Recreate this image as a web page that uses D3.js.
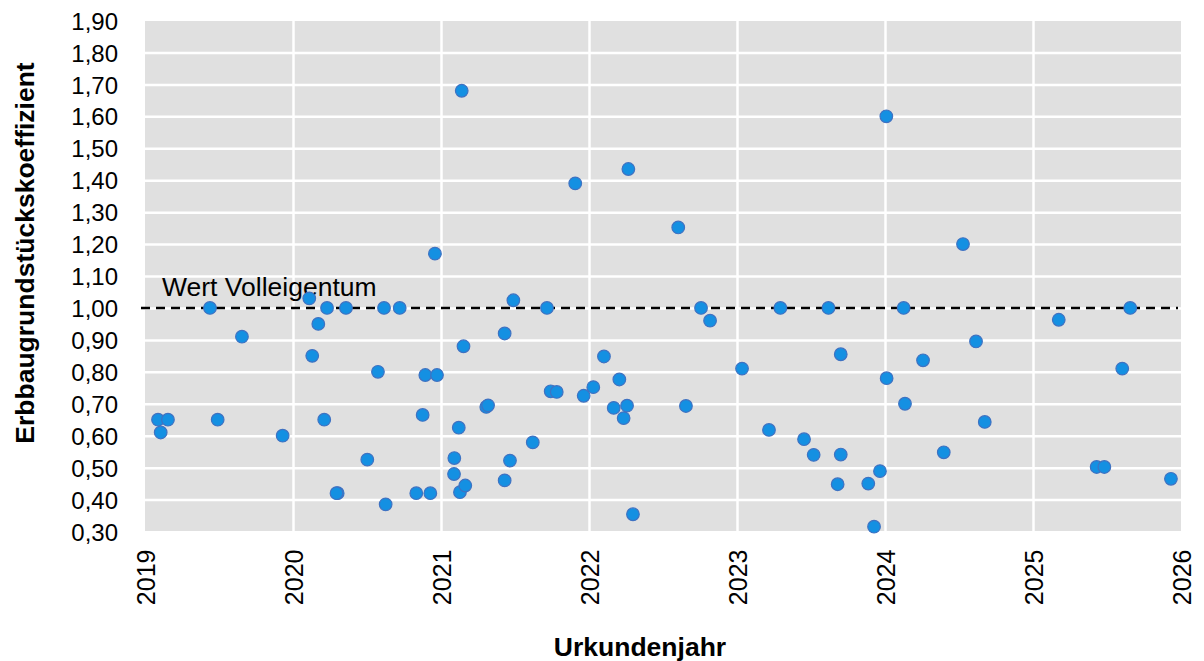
<!DOCTYPE html>
<html>
<head>
<meta charset="utf-8">
<script src="https://cdn.jsdelivr.net/npm/d3@7"></script>
<style>
  body { margin: 0; background: #fff; }
  svg text { font-family: "Liberation Sans", Arial, sans-serif; fill: #000; }
  .axis path, .axis line { display: none; }
  .grid line { stroke: #fff; stroke-width: 2.5; }
  .grid path { display: none; }
</style>
</head>
<body>
<svg class="chart"></svg>
<script>
// year of the deed (decimal) and plot coefficient
var years = [2019.088, 2019.106, 2019.155, 2019.439, 2019.491, 2019.655, 2019.930,
  2020.110, 2020.130, 2020.171, 2020.211, 2020.230, 2020.302, 2020.294, 2020.358, 2020.502,
  2020.574, 2020.615, 2020.626, 2020.721, 2020.833, 2020.876, 2020.894, 2020.928, 2020.959,
  2020.973, 2021.090, 2021.088, 2021.120, 2021.128, 2021.140, 2021.152, 2021.164, 2021.306,
  2021.318, 2021.430, 2021.430, 2021.466, 2021.489, 2021.620, 2021.716, 2021.741, 2021.782,
  2021.907, 2021.964, 2022.029, 2022.101, 2022.167, 2022.205, 2022.234, 2022.257, 2022.266,
  2022.297, 2022.603, 2022.655, 2022.757, 2022.818, 2023.034, 2023.216, 2023.293, 2023.453,
  2023.518, 2023.618, 2023.680, 2023.701, 2023.701, 2023.887, 2023.926, 2023.966, 2024.009,
  2024.011, 2024.126, 2024.135, 2024.257, 2024.397, 2024.527, 2024.615, 2024.674, 2025.174,
  2025.430, 2025.482, 2025.603, 2025.657, 2025.932];
var coefficients = [0.65, 0.61, 0.65, 1.00, 0.65, 0.91, 0.60,
  1.03, 0.85, 0.95, 0.65, 1.00, 0.42, 0.42, 1.00, 0.525,
  0.80, 1.00, 0.385, 1.00, 0.42, 0.665, 0.79, 0.42, 1.17,
  0.79, 0.53, 0.48, 0.625, 0.423, 1.68, 0.88, 0.444, 0.69,
  0.695, 0.92, 0.46, 0.522, 1.024, 0.579, 1.00, 0.739, 0.737,
  1.39, 0.725, 0.752, 0.848, 0.687, 0.776, 0.655, 0.694, 1.435,
  0.354, 1.252, 0.693, 1.00, 0.96, 0.81, 0.618, 1.00, 0.589,
  0.54, 1.00, 0.448, 0.855, 0.541, 0.45, 0.315, 0.489, 1.60,
  0.78, 1.00, 0.70, 0.836, 0.548, 1.20, 0.895, 0.643, 0.963,
  0.502, 0.502, 0.81, 1.00, 0.465];
var yearTicks = [2019, 2020, 2021, 2022, 2023, 2024, 2025, 2026];
var valueTicks = [0.3, 0.4, 0.5, 0.6, 0.7, 0.8, 0.9, 1.0, 1.1, 1.2, 1.3, 1.4, 1.5, 1.6, 1.7, 1.8, 1.9];
var referenceValue = 1.0;
var referenceLabel = "Wert Volleigentum";

var margin = {top: 20.5, right: 23, bottom: 129.5, left: 145};
var totalWidth = 1204, totalHeight = 661;
var chartWidth = totalWidth - margin.left - margin.right;
var chartHeight = totalHeight - margin.top - margin.bottom;

var points = years.map(function(d, i) { return {year: d, value: coefficients[i]}; });

var x = d3.scaleLinear().domain([2019, 2026]).range([0, chartWidth]);
var y = d3.scaleLinear().domain([0.3, 1.9]).range([chartHeight, 0]);
var fmt = function(d) { return d3.format(".2f")(d).replace(".", ","); };

var svg = d3.select(".chart").attr("width", totalWidth).attr("height", totalHeight);
var chart = svg.append("g")
  .attr("transform", "translate(" + margin.left + "," + margin.top + ")");

// plot background
chart.append("rect")
  .attr("x", 0).attr("y", 0.5)
  .attr("width", chartWidth).attr("height", chartHeight - 1)
  .attr("fill", "#e0e0e0");

// grid
chart.append("g").attr("class", "grid")
  .call(d3.axisLeft(y).tickValues(valueTicks.slice(1, -1)).tickSize(-chartWidth).tickFormat(""));
chart.append("g").attr("class", "grid")
  .call(d3.axisBottom(x).tickValues(yearTicks.slice(1, -1)).tickSize(chartHeight).tickFormat(""));

// y axis labels
var yAxis = chart.append("g").attr("class", "axis")
  .attr("transform", "translate(-27,0)")
  .call(d3.axisLeft(y).tickValues(valueTicks).tickSize(0).tickFormat(fmt));
yAxis.selectAll("text").attr("x", 0).attr("dy", "0.36em")
  .style("font-size", "24px");

// x axis labels (rotated)
var xAxis = chart.append("g").attr("class", "axis")
  .attr("transform", "translate(0," + chartHeight + ")")
  .call(d3.axisBottom(x).tickValues(yearTicks).tickSize(0).tickFormat(d3.format("d")));
xAxis.selectAll("text")
  .attr("transform", "rotate(-90)")
  .attr("x", -18).attr("y", 0).attr("dy", "0.36em")
  .style("text-anchor", "end")
  .style("font-size", "25px");

// reference line
chart.append("line")
  .attr("x1", x(2019) - 4).attr("x2", x(2026) - 3)
  .attr("y1", y(referenceValue)).attr("y2", y(referenceValue))
  .attr("stroke", "#000").attr("stroke-width", 2.4)
  .attr("stroke-dasharray", "9,6");

chart.append("text")
  .attr("x", x(2019) + 17).attr("y", y(referenceValue) - 12)
  .style("font-size", "26.5px")
  .text(referenceLabel);

// points
chart.selectAll("circle.pt")
  .data(points)
  .enter().append("circle")
  .attr("class", "pt")
  .attr("cx", function(d) { return x(d.year); })
  .attr("cy", function(d) { return y(d.value); })
  .attr("r", 6.3)
  .attr("fill", "#1490e2")
  .attr("stroke", "#3f72c2")
  .attr("stroke-width", 1.2);

// axis titles
svg.append("text")
  .attr("transform", "translate(34,253) rotate(-90)")
  .style("text-anchor", "middle")
  .style("font-weight", "bold")
  .style("font-size", "26.5px")
  .text("Erbbaugrundstückskoeffizient");

svg.append("text")
  .attr("x", 640).attr("y", 656)
  .style("text-anchor", "middle")
  .style("font-weight", "bold")
  .style("font-size", "26.5px")
  .text("Urkundenjahr");
</script>
</body>
</html>
